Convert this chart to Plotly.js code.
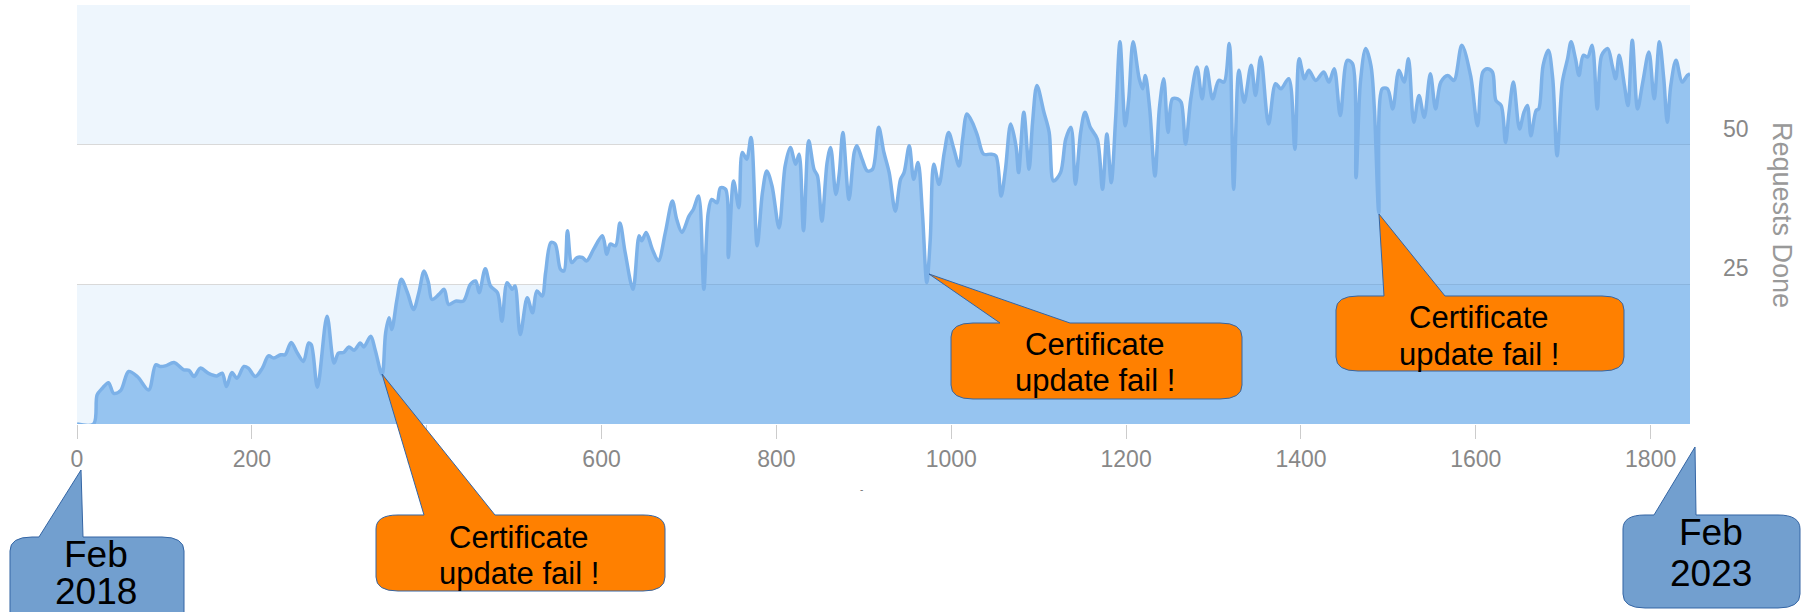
<!DOCTYPE html>
<html>
<head>
<meta charset="utf-8">
<script src="https://cdn.plot.ly/plotly-3.0.1.min.js"></script>
<style>
  html, body { margin: 0; padding: 0; background: #ffffff; }
  #chart { width: 1811px; height: 612px; }
</style>
</head>
<body>
<div id="chart"></div>
<script>
// ---- data ----
const days = [0,19,23,29,36,42,50,59,69,82,90,95,101,111,122,128,134,141,151,160,166,171,177,183,191,196,204,212,219,225,233,238,245,252,259,265,
 268,275,286,294,299,305,311,317,324,328,336,341,349,353,357,360,366,371,378,385,391,397,402,406,414,420,425,433,442,450,456,460,467,473,481,486,492,498,501,507,515,521,526,
 532,536,542,547,553,557,561,566,572,578,583,591,601,606,610,616,621,627,636,643,646,651,658,665,673,681,686,692,700,705,711,717,722,726,732,736,742,745,751,757,761,766,771,778,784,789,
 795,803,810,816,822,826,831,837,843,847,852,858,862,868,872,876,883,889,892,898,904,910,917,923,929,936,942,946,952,957,962,967,972,976,980,986,992,997,1003,1009,1013,1018,1024,1030,1037,1045,1051,
 1057,1062,1068,1074,1077,1083,1089,1093,1098,1106,1112,1117,1125,1131,1137,1142,1148,1153,1159,1167,1173,1178,1183,1188,1193,1199,1203,1208,1215,1219,1222,1227,1233,1238,1243,1248,1253,1259,1263,1268,1274,1281,1287,1292,1299,1306,1312,1318,
 1323,1329,1335,1343,1348,1354,1363,1371,1377,1386,1393,1398,1404,1409,1417,1426,1432,1438,1445,1453,1459,1463,1468,1474,1480,1484,1489,1493,1499,1505,1512,1518,1523,1529,1535,1541,1548,1554,1560,1568,1575,1584,
 1594,1602,1608,1613,1619,1623,1629,1634,1638,1643,1650,1655,1659,1663,1669,1672,1677,1683,1688,1693,1699,1705,1709,1714,1718,1723,1728,1733,1739,1744,1751,1756,1760,1764,1770,1774,1779,1785,1791,1798,1804,1810,1815,1819,1823,1829,1836,1842,1845];

const requests = [0,0,5.2,6.4,7.4,5.5,6.0,9.4,8.5,6.1,10.6,10.3,10.4,11.0,9.7,9.6,8.5,10.0,9.0,8.6,9.1,6.7,9.2,8.2,10.3,10.0,8.5,10.0,12.2,11.8,12.4,12.4,14.6,12.7,11.2,14.5,
 14.2,6.6,19.3,10.9,12.7,12.8,13.8,13.2,14.5,13.8,15.7,13.3,8.8,16.3,19.0,16.9,22.3,25.9,23.5,20.5,23.5,27.4,25.3,22.3,23.2,24.1,21.4,22.0,22.0,25.0,25.6,23.5,27.8,24.7,23.5,18.4,25.3,24.1,24.7,16.0,22.6,19.9,23.8,
 22.9,27.1,32.5,32.2,27.7,27.4,34.6,28.9,29.8,29.8,29.2,31.3,33.7,30.4,32.2,31.9,36.0,30.7,24.1,33.7,32.8,34.3,31.3,29.2,34.3,39.9,36.6,34.3,37.2,38.4,40.8,24.1,37.8,40.2,39.6,42.3,42.0,29.8,43.5,38.7,48.6,47.4,51.3,31.9,41.4,45.3,
 42.6,35.1,46.2,49.5,46.5,48.3,34.6,50.7,45.6,44.4,36.3,46.8,49.5,41.1,45.0,52.2,40.2,48.6,49.8,47.4,45.3,45.6,53.1,48.6,45.0,38.1,43.8,45.0,49.8,43.8,46.8,37.8,25.3,33.1,46.5,42.9,48.6,52.2,49.2,46.2,51.0,55.5,54.0,51.6,48.3,48.3,48.0,
 40.8,45.6,53.7,49.8,45.0,55.8,45.6,54.0,60.6,55.8,52.2,43.5,45.0,51.0,53.1,42.9,52.2,55.8,53.1,51.0,42.0,51.9,43.2,54.6,68.4,53.4,58.2,68.4,61.8,60.0,62.4,56.4,44.4,56.4,61.8,52.2,58.2,58.2,57.6,50.1,58.2,63.9,58.2,63.9,58.2,61.5,61.2,68.1,
 42.0,63.3,57.6,64.2,58.8,65.7,53.7,60.9,60.0,61.8,49.2,65.4,61.8,63.3,61.5,63.0,61.2,63.6,55.2,65.1,64.5,44.1,61.2,67.2,64.2,56.4,37.8,60.0,60.0,56.4,63.3,61.2,65.4,54.0,58.8,54.9,62.7,56.4,61.2,62.4,61.5,67.8,
 62.4,53.4,63.0,63.6,63.0,57.9,57.0,50.4,55.8,61.2,52.8,55.8,57.0,51.6,56.1,56.4,64.2,66.9,61.8,48.0,61.2,65.4,68.4,65.4,62.4,66.0,65.7,67.8,56.4,66.0,67.2,64.2,61.8,66.0,60.6,57.0,68.7,56.4,61.2,66.6,58.2,68.4,61.8,54.0,60.6,65.1,61.2,62.4,62.7];

const xTickVals = [0,200,400,600,800,1000,1200,1400,1600,1800];
const yTickVals = [0,25,50,75];
const yTickText = ['', '25', '50', ''];
const yTitle = 'Requests Done';
const failText = ['Certificate', 'update fail !'];
const startText = ['Feb', '2018'];
const endText = ['Feb', '2023'];

// ---- layout geometry ----
const W = 1811, H = 612;
const M = {l: 77, r: 121, t: 5, b: 188};
const PW = W - M.l - M.r, PH = H - M.t - M.b;
const px = x => (x - M.l) / PW;
const py = y => 1 - (y - M.t) / PH;

function bubblePath(b) {
  const rx = 22, ry = 14;
  const P = (x, y) => px(x).toFixed(5) + ',' + py(y).toFixed(5);
  return 'M' + P(b.x0 + rx, b.y0) +
    ' L' + P(b.b0, b.y0) + ' L' + P(b.tx, b.ty) + ' L' + P(b.b1, b.y0) +
    ' L' + P(b.x1 - rx, b.y0) + ' Q' + P(b.x1, b.y0) + ' ' + P(b.x1, b.y0 + ry) +
    ' L' + P(b.x1, b.y1 - ry) + ' Q' + P(b.x1, b.y1) + ' ' + P(b.x1 - rx, b.y1) +
    ' L' + P(b.x0 + rx, b.y1) + ' Q' + P(b.x0, b.y1) + ' ' + P(b.x0, b.y1 - ry) +
    ' L' + P(b.x0, b.y0 + ry) + ' Q' + P(b.x0, b.y0) + ' ' + P(b.x0 + rx, b.y0) + ' Z';
}

const ORANGE = '#ff8000', BLUE = '#729fcf', EDGE = '#3465a4';
const bubbles = [
  {x0: 10, x1: 184, y0: 537, y1: 640, b0: 39, b1: 83, tx: 81, ty: 470, fill: BLUE,
   lines: startText, cx: 96, ly: [554, 591], size: 37},
  {x0: 1623, x1: 1800, y0: 515, y1: 608, b0: 1654, b1: 1696, tx: 1695, ty: 447, fill: BLUE,
   lines: endText, cx: 1711, ly: [532, 573], size: 37},
  {x0: 376, x1: 665, y0: 515, y1: 591, b0: 424, b1: 495, tx: 382, ty: 374, fill: ORANGE,
   lines: failText, cx: 519, ly: [537, 573], size: 31},
  {x0: 951, x1: 1242, y0: 323, y1: 399, b0: 1000, b1: 1070, tx: 929, ty: 274, fill: ORANGE,
   lines: failText, cx: 1095, ly: [344, 380], size: 31},
  {x0: 1336, x1: 1624, y0: 296, y1: 371, b0: 1384, b1: 1445, tx: 1379, ty: 214, fill: ORANGE,
   lines: failText, cx: 1479, ly: [317, 354], size: 31}
];

const shapes = [
  {type: 'rect', xref: 'paper', yref: 'y', x0: 0, x1: 1, y0: 0, y1: 25,
   fillcolor: '#eef6fd', line: {width: 0}, layer: 'below'},
  {type: 'rect', xref: 'paper', yref: 'y', x0: 0, x1: 1, y0: 50, y1: 75,
   fillcolor: '#eef6fd', line: {width: 0}, layer: 'below'}
];
const annotations = [];
bubbles.forEach(b => {
  shapes.push({type: 'path', xref: 'paper', yref: 'paper', path: bubblePath(b),
    fillcolor: b.fill, line: {color: EDGE, width: 1}, layer: 'above'});
  b.lines.forEach((t, i) => {
    annotations.push({xref: 'paper', yref: 'paper', x: px(b.cx), y: py(b.ly[i]),
      xanchor: 'center', yanchor: 'middle', showarrow: false, text: t,
      font: {family: 'Liberation Sans, Arial, sans-serif', size: b.size, color: '#000000'}});
  });
});
annotations.push({xref: 'paper', yref: 'paper', x: px(1782), y: py(215), textangle: 90,
  showarrow: false, text: yTitle, xanchor: 'center', yanchor: 'middle',
  font: {family: 'Liberation Sans, Arial, sans-serif', size: 27, color: '#999999'}});
annotations.push({xref: 'paper', yref: 'paper', x: px(861), y: py(489),
  showarrow: false, text: '-', xanchor: 'center', yanchor: 'middle',
  font: {family: 'Liberation Sans, Arial, sans-serif', size: 10, color: '#777777'}});

const trace = {
  type: 'scatter', mode: 'lines', x: days, y: requests,
  line: {color: 'rgb(124,177,232)', width: 3.5, shape: 'spline', smoothing: 0.9},
  fill: 'tozeroy', fillcolor: 'rgba(62,146,228,0.5)', hoverinfo: 'skip'
};

const layout = {
  width: W, height: H, margin: M,
  paper_bgcolor: '#ffffff', plot_bgcolor: 'rgba(0,0,0,0)',
  showlegend: false,
  xaxis: {range: [0, 1845], tickvals: xTickVals, ticks: 'outside', ticklen: 14,
    tickcolor: '#cccccc', tickwidth: 1, showgrid: false, zeroline: false, showline: false,
    tickfont: {family: 'Liberation Sans, Arial, sans-serif', size: 23, color: '#888888'}},
  yaxis: {range: [0, 75], side: 'right', tickvals: yTickVals, ticktext: yTickText,
    showgrid: true, gridcolor: '#d9d9d9', gridwidth: 1.5, zeroline: false, showline: false,
    ticks: '', ticklabelposition: 'outside top', ticklabelstandoff: 32,
    tickfont: {family: 'Liberation Sans, Arial, sans-serif', size: 23, color: '#888888'}},
  shapes: shapes,
  annotations: annotations
};

Plotly.newPlot('chart', [trace], layout, {staticPlot: true, displayModeBar: false});
</script>
</body>
</html>
